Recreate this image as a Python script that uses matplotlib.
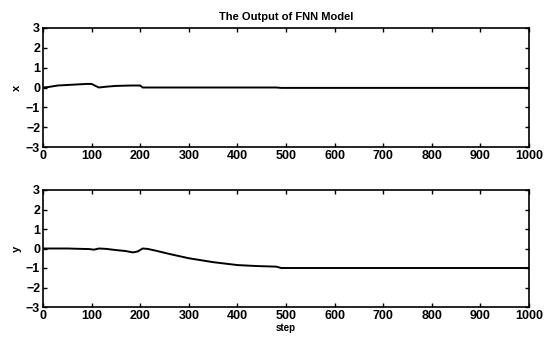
import matplotlib
matplotlib.use("Agg")
import matplotlib.pyplot as plt

# step values and model outputs
x_steps = [0, 10, 30, 60, 90, 100, 108, 115, 130, 150, 180, 200, 205, 300, 480, 490, 1000]
x_vals = [0.0, 0.02, 0.1, 0.14, 0.18, 0.18, 0.08, 0.0, 0.04, 0.08, 0.1, 0.1, 0.0, 0.0, 0.0, -0.02, -0.02]

y_steps = [0, 50, 95, 105, 115, 130, 150, 170, 185, 195, 205, 215, 230, 260, 300, 350, 400, 440, 480, 490, 580, 1000]
y_vals = [0.0, 0.0, -0.03, -0.06, 0.0, -0.02, -0.08, -0.13, -0.2, -0.15, 0.0, -0.02, -0.1, -0.28, -0.5, -0.7, -0.85, -0.9, -0.93, -1.0, -1.0, -1.0]

plt.rcParams['font.family'] = ['Liberation Sans', 'DejaVu Sans']
plt.rcParams['font.weight'] = 'bold'

fig = plt.figure(figsize=(5.44, 3.41), dpi=100)
W, H = 544, 341
ax1 = fig.add_axes([43 / W, 1 - 147 / H, (529 - 43) / W, (147 - 28) / H])
ax2 = fig.add_axes([43 / W, 1 - 307 / H, (529 - 43) / W, (307 - 190) / H])

for ax, s, v, lab in [(ax1, x_steps, x_vals, 'x'), (ax2, y_steps, y_vals, 'y')]:
    ax.plot(s, v, color='black', linewidth=1.4)
    ax.set_xlim(0, 1000)
    ax.set_ylim(-3, 3)
    ax.set_xticks(range(0, 1001, 100))
    ax.set_yticks(range(-3, 4))
    ax.tick_params(direction='in', top=True, right=True, length=3, width=1,
                   labelsize=9, pad=2)
    for sp in ax.spines.values():
        sp.set_linewidth(1.2)
    ax.set_ylabel(lab, fontsize=8, fontweight='bold', labelpad=3)

ax1.set_title('The Output of FNN Model', fontsize=8, fontweight='bold', pad=6)
ax2.set_xlabel('step', fontsize=7, fontweight='bold', labelpad=1)

fig.savefig('out.png', dpi=100)
